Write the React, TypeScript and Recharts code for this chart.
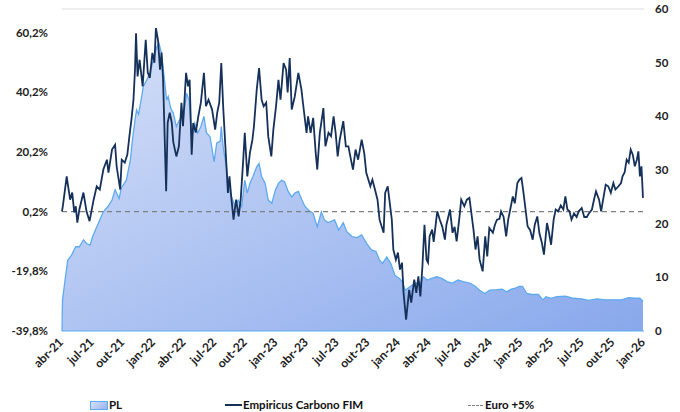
import { ComposedChart, Area, Line, XAxis, YAxis, ReferenceLine } from 'recharts';

// x = months since abr-21
const monthLabels = [
  'abr-21', 'jul-21', 'out-21', 'jan-22', 'abr-22', 'jul-22', 'out-22',
  'jan-23', 'abr-23', 'jul-23', 'out-23', 'jan-24', 'abr-24', 'jul-24',
  'out-24', 'jan-25', 'abr-25', 'jul-25', 'out-25', 'jan-26',
];
const monthTicks = monthLabels.map((_, i) => i * 3);

const leftTicks = [-39.8, -19.8, 0.2, 20.2, 40.2, 60.2];
const rightTicks = [0, 10, 20, 30, 40, 50, 60];

// Empiricus Carbono FIM, accumulated return (%)
const carbonoPoints: [number, number][] = [
  [0, 0.3], [0.1, 2.5], [0.46, 12], [0.6, 8.7], [0.8, 4.2], [1.0, 6.6], [1.2, -0.1],
  [1.35, 2], [1.5, -3.5], [1.7, 0.9], [2.1, 6.6], [2.4, 0.3], [2.7, -3], [3.1, 4.2],
  [3.4, 8.7], [3.7, 7.6], [4.05, 14.3], [4.4, 17.6], [4.55, 13.3], [4.9, 21], [5.2, 22.6],
  [5.35, 15.4], [5.7, 7.6], [5.85, 17.6], [6.15, 16.6], [6.4, 19.3], [6.6, 25.4], [6.8, 31],
  [7.0, 37.7], [7.15, 47.8], [7.25, 60], [7.4, 45.5], [7.6, 51.1], [7.9, 42.2], [8.2, 57.8],
  [8.4, 46.8], [8.6, 45], [8.85, 53.4], [9.05, 50.1], [9.2, 61.7], [9.4, 57.8], [9.6, 47.8],
  [9.75, 53.5], [9.9, 44.4], [10.2, 7], [10.35, 30], [10.55, 33.4], [10.75, 30], [10.9, 23.5],
  [11.2, 18.7], [11.45, 22.1], [11.7, 36.7], [11.85, 28.8], [12.15, 46.7], [12.35, 42.2],
  [12.5, 44.4], [12.7, 19.3], [12.85, 29.9], [13.1, 26.7], [13.35, 32.1], [13.6, 36.7],
  [13.9, 46.7], [14.1, 35.5], [14.35, 37.7], [14.7, 34.4], [15.0, 27.7], [15.2, 33.3],
  [15.4, 36.7], [15.6, 50], [15.8, 34.4], [16.0, 22.1], [16.25, 6.5], [16.4, 12], [16.6, 4.2],
  [16.8, -2.5], [17.05, 4.2], [17.3, -1.4], [17.5, 4.2], [17.75, 17.6], [17.9, 26.6],
  [18.15, 12], [18.4, 19.8], [18.65, 24.3], [18.8, 28.8], [19.07, 41], [19.3, 48.3],
  [19.55, 37.7], [19.75, 35.5], [20.0, 36.7], [20.2, 25.4], [20.5, 18.7], [20.7, 27.7],
  [20.96, 35.5], [21.2, 44.4], [21.4, 37.7], [21.7, 50], [21.95, 47.8], [22.1, 40.1],
  [22.3, 51.7], [22.5, 34.4], [22.8, 38.8], [23.15, 46.7], [23.45, 41.1], [23.6, 36.6],
  [23.95, 26.6], [24.1, 32.1], [24.35, 26.6], [24.6, 31.6], [24.85, 19.8], [25.0, 14.3],
  [25.25, 26.6], [25.6, 34.9], [25.8, 22.1], [26.1, 26.6], [26.35, 25.5], [26.6, 32.1],
  [26.8, 26.6], [27.0, 18.7], [27.2, 24.3], [27.55, 30.5], [27.8, 22.1], [28.05, 22.1],
  [28.3, 17.6], [28.5, 14.3], [28.75, 21], [29.0, 17.6], [29.35, 24.3], [29.6, 19.8],
  [29.8, 13.2], [30.2, 8.7], [30.4, 10.9], [30.65, 7.6], [30.9, 4.2], [31.1, -2.5],
  [31.5, -6.9], [31.65, 6.5], [31.9, 8.7], [32.1, 3.1], [32.3, -2.5], [32.45, -12.5],
  [32.7, -15.9], [32.9, -13.5], [33.1, -19.2], [33.3, -16.9], [33.45, -27], [33.7, -36],
  [34.0, -26], [34.2, -30.3], [34.5, -22.6], [34.7, -27], [34.9, -21.5], [35.1, -28.2],
  [35.3, -18.1], [35.5, -4.2], [35.7, -15.9], [35.85, -16.9], [36.0, -8.1], [36.25, -5.8],
  [36.4, -9.9], [36.75, 0.3], [37.0, -2.5], [37.25, -4.9], [37.5, -9.2], [37.65, -4.2],
  [38.0, 0.9], [38.25, -6.9], [38.45, -4.9], [38.65, -9.8], [38.9, -2.5], [39.1, 4.2],
  [39.4, 2], [39.65, 4.2], [39.9, 4.8], [40.05, 0.9], [40.3, -5.8], [40.5, -12.5],
  [40.7, -8.1], [40.9, -15.9], [41.2, -19.8], [41.45, -8.1], [41.65, -14.8], [41.85, -5.3],
  [42.2, -6.9], [42.4, -4.2], [42.6, -2.5], [42.85, -2.2], [43.0, 0.3], [43.25, -1.6],
  [43.5, -8.1], [43.7, -2.5], [43.9, 0.9], [44.15, 5.3], [44.35, 3], [44.6, 9.8],
  [44.8, 10.9], [45.0, 11.5], [45.2, 6.5], [45.6, -4.7], [45.85, -6], [46.1, -9.2],
  [46.3, -4.2], [46.55, -1.4], [46.75, -6.9], [47.0, -10.3], [47.2, -14.2], [47.5, -3.6],
  [47.7, -6.9], [47.9, -10.9], [48.15, -2.5], [48.35, 0.9], [48.6, 0.3], [48.85, 2.3],
  [49.1, 0.9], [49.3, 5.3], [49.5, 0.9], [49.7, 0.3], [49.9, -2.5], [50.15, -0.4],
  [50.4, -1.6], [50.6, 0.3], [50.9, 1.4], [51.15, -1.6], [51.4, -1.6], [51.6, -0.4],
  [51.9, 0.9], [52.1, 4.2], [52.3, 7], [52.6, 4.2], [52.8, 0.3], [53.05, 5.3], [53.25, 9.2],
  [53.5, 8.7], [53.75, 6.5], [54.0, 9.8], [54.2, 7.6], [54.5, 8.7], [54.75, 9.8], [54.9, 12],
  [55.1, 13.3], [55.3, 17.6], [55.5, 16.6], [55.7, 21], [55.9, 19.3], [56.1, 15.4],
  [56.3, 17.6], [56.45, 20.4], [56.6, 12], [56.75, 15.4], [56.9, 4.8],
];

// PL (right axis)
const plPoints: [number, number][] = [
  [0, 0], [0.05, 5.8], [0.3, 9.5], [0.56, 13.2], [0.95, 14.2], [1.34, 15.7], [1.7, 15.7],
  [2.1, 17], [2.4, 16.3], [2.75, 16], [3.0, 17.6], [3.4, 19.4], [3.7, 20.7], [4.05, 22.2],
  [4.5, 23.2], [4.9, 24.4], [5.2, 26.3], [5.6, 24.7], [5.8, 26.6], [6.3, 28.1], [6.7, 31.9],
  [6.9, 35.6], [7.15, 39.3], [7.3, 41.2], [7.5, 40.4], [7.75, 43], [7.95, 45.5], [8.3, 46.8],
  [8.6, 48], [8.95, 50.5], [9.3, 53], [9.5, 53.6], [9.75, 51.7], [10.0, 47.4], [10.25, 43],
  [10.4, 43.7], [10.65, 41.5], [10.9, 40.6], [11.2, 38.1], [11.5, 39.3], [11.9, 40],
  [12.2, 44.3], [12.45, 43], [12.7, 36.2], [13.0, 38.7], [13.3, 36.9], [13.6, 38.1],
  [13.9, 40], [14.15, 36.9], [14.5, 36.2], [14.9, 31.5], [15.15, 35], [15.5, 35.4],
  [15.6, 38.1], [15.8, 34], [16.1, 30.6], [16.3, 26.9], [16.6, 25], [16.95, 23.2],
  [17.25, 24.4], [17.6, 23.2], [17.9, 28.1], [18.15, 25.7], [18.4, 27.5], [18.7, 28.8],
  [19.07, 30.6], [19.3, 31.2], [19.55, 28.8], [19.9, 27.5], [20.2, 24.4], [20.55, 23.8],
  [20.9, 26.3], [21.2, 27.5], [21.5, 28.1], [21.8, 27.8], [22.15, 26], [22.5, 25],
  [22.8, 25.7], [23.15, 26], [23.5, 24.4], [23.8, 23.2], [24.15, 22.5], [24.6, 21.9],
  [25.0, 19.4], [25.4, 22.2], [25.7, 20.7], [26.05, 20.2], [26.7, 20.7], [27.1, 18.8],
  [27.55, 20.2], [27.9, 18.5], [28.4, 17.6], [28.9, 17.4], [29.35, 17.9], [29.85, 16.3],
  [30.3, 15.1], [30.75, 14.8], [31.1, 13.2], [31.4, 12.6], [31.8, 13.8], [32.2, 12.6],
  [32.6, 10.4], [33.1, 9.7], [33.4, 8.9], [33.6, 7.6], [34.1, 8.3], [34.6, 8.9], [35.1, 8.9],
  [35.4, 10.1], [35.75, 9.5], [36.2, 9.8], [36.7, 10.1], [37.2, 9.8], [37.7, 9.2],
  [38.2, 8.9], [38.5, 9.2], [38.8, 9.5], [39.3, 9.2], [40.0, 8.9], [40.5, 8.3], [40.9, 7.6],
  [41.4, 7], [41.9, 7.6], [42.6, 7.7], [43.1, 7.8], [43.55, 7.3], [44.0, 7.8], [44.4, 8],
  [44.8, 8.3], [45.1, 8.3], [45.5, 7], [46.0, 6.8], [46.65, 6.8], [47.1, 5.8], [47.4, 6.4],
  [47.9, 6.1], [48.45, 6.4], [49.3, 6.5], [50.1, 6.1], [50.9, 6], [51.55, 5.7], [52.4, 6],
  [53.2, 5.8], [54.2, 5.8], [54.8, 5.8], [55.5, 6.2], [56.1, 6.1], [56.6, 6.1], [56.9, 5.5],
];

// Euro +5% benchmark (left axis)
const euroPoints: [number, number][] = [
  [0, 0.2], [57, 0.2],
];

const carbonoData = carbonoPoints.map(([m, v]) => ({ m, v }));
const plData = plPoints.map(([m, v]) => ({ m, v }));
const euroData = euroPoints.map(([m, v]) => ({ m, v }));

const FONT = 'Lato, "Open Sans", sans-serif';
const NAVY = '#15315a';
const PL_STROKE = '#5eaaf0';

const fmtPct = (v: number) => v.toFixed(1).replace('.', ',') + '%';

const MonthTick = (props: any) => {
  const { x, y, payload } = props;
  const label = monthLabels[Math.round(payload.value / 3)];
  const tx = x + 2;
  const ty = y + 4;
  return (
    <text
      x={tx}
      y={ty}
      transform={`rotate(-45 ${tx} ${ty})`}
      textAnchor="end"
      fontFamily={FONT}
      fontWeight={700}
      fontSize={12}
      fill="#222"
    >
      {label}
    </text>
  );
};

const tickStyle = { fontFamily: FONT, fontWeight: 700, fontSize: 11.5, fill: '#222' };

export default function App() {
  return (
    <div style={{ position: 'absolute', left: 0, top: 0, width: 680, height: 412, background: '#fff' }}>
      <ComposedChart width={680} height={412} margin={{ top: 9, right: 6, bottom: 31, left: 8 }}>
        <defs>
          <linearGradient id="plFill" x1="0" y1="0" x2="1" y2="1">
            <stop offset="0%" stopColor="#d6e0f8" />
            <stop offset="100%" stopColor="#88a8ec" />
          </linearGradient>
        </defs>
        <XAxis
          dataKey="m"
          type="number"
          domain={[0, 57]}
          ticks={monthTicks}
          interval={0}
          height={50}
          tickLine={false}
          axisLine={{ stroke: PL_STROKE }}
          tick={<MonthTick />}
        />
        <YAxis
          yAxisId="left"
          orientation="left"
          type="number"
          domain={[-39.8, 68.1]}
          ticks={leftTicks}
          tickFormatter={fmtPct}
          width={54}
          tickMargin={8}
          tickLine={false}
          axisLine={false}
          tick={tickStyle}
          allowDataOverflow
        />
        <YAxis
          yAxisId="right"
          orientation="right"
          type="number"
          domain={[0, 60]}
          ticks={rightTicks}
          width={30}
          tickMargin={5}
          tickLine={false}
          axisLine={false}
          tick={tickStyle}
        />
        <ReferenceLine yAxisId="right" y={60} stroke="#dcdcdc" strokeWidth={1} />
        <Area
          yAxisId="right"
          data={plData}
          dataKey="v"
          type="linear"
          stroke={PL_STROKE}
          strokeWidth={1.3}
          fill="url(#plFill)"
          fillOpacity={1}
          isAnimationActive={false}
          dot={false}
          activeDot={false}
        />
        <Line
          yAxisId="left"
          data={euroData}
          dataKey="v"
          type="linear"
          stroke="#7f7f7f"
          strokeWidth={1.2}
          strokeDasharray="5 4"
          dot={false}
          activeDot={false}
          isAnimationActive={false}
        />
        <Line
          yAxisId="left"
          data={carbonoData}
          dataKey="v"
          type="linear"
          stroke={NAVY}
          strokeWidth={1.8}
          dot={false}
          activeDot={false}
          isAnimationActive={false}
        />
      </ComposedChart>
      <div
        style={{
          position: 'absolute',
          left: 0,
          top: 398,
          width: 680,
          height: 14,
          fontFamily: FONT,
          fontWeight: 700,
          fontSize: 11.5,
          color: '#111',
          lineHeight: '14px',
        }}
      >
        <div style={{ position: 'absolute', left: 90, top: 3, width: 16, height: 7, background: 'linear-gradient(135deg,#d6e0f8,#9ab4ee)', border: `1px solid ${PL_STROKE}` }} />
        <span style={{ position: 'absolute', left: 109, top: 0 }}>PL</span>
        <div style={{ position: 'absolute', left: 225, top: 6, width: 17, height: 0, borderTop: `2px solid ${NAVY}` }} />
        <span style={{ position: 'absolute', left: 243, top: 0 }}>Empiricus Carbono FIM</span>
        <div style={{ position: 'absolute', left: 468, top: 7, width: 15, height: 0, borderTop: '1px dashed #7f7f7f' }} />
        <span style={{ position: 'absolute', left: 485, top: 0 }}>Euro +5%</span>
      </div>
    </div>
  );
}
